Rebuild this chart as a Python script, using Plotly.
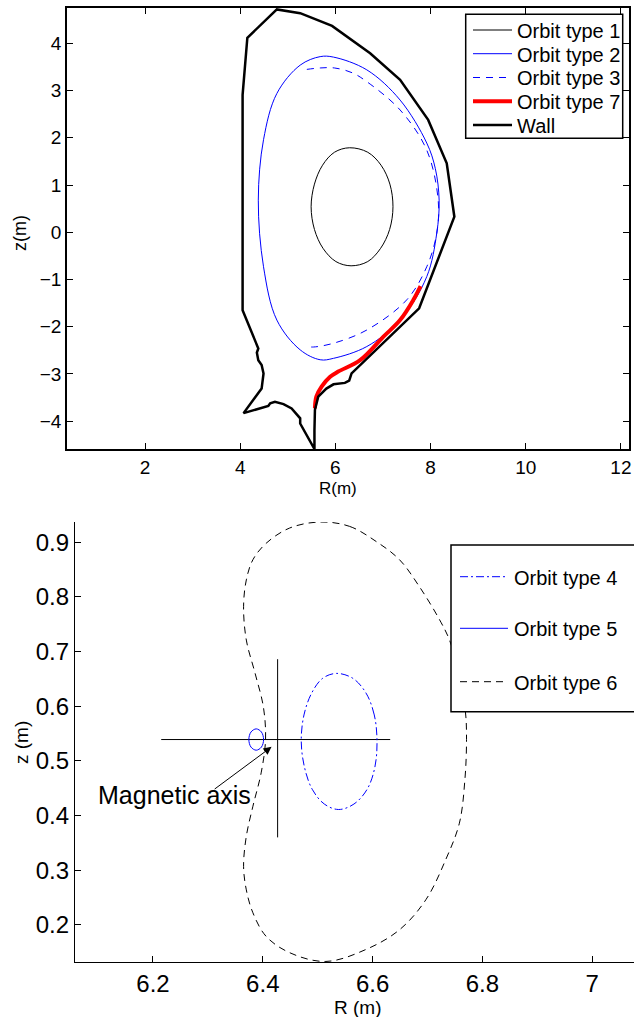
import plotly.graph_objects as go

W, H = 634, 1017
FONT = "Liberation Sans, Arial, sans-serif"

# ---------------- upper panel: poloidal cross-section ----------------
orbit1_R = [7.21, 7.145, 6.96, 6.68, 6.30, 5.98, 5.73, 5.56, 5.49, 5.56, 5.74, 6.01, 6.33, 6.68, 6.95, 7.14, 7.21]
orbit1_z = [0.54, 1.02, 1.42, 1.695, 1.79, 1.695, 1.42, 1.02, 0.54, 0.06, -0.34, -0.62, -0.71, -0.62, -0.34, 0.06, 0.54]

orbit2_R = [8.18, 8.10, 7.92, 7.36, 6.66, 5.96, 5.68, 5.26, 4.77, 4.49, 4.38, 4.49, 4.77, 5.26, 5.68, 5.96, 6.66, 7.36, 7.92, 8.13, 8.18]
orbit2_z = [0.68, 1.35, 1.89, 2.80, 3.44, 3.71, 3.72, 3.54, 2.94, 1.96, 0.68, -0.73, -1.86, -2.49, -2.70, -2.67, -2.42, -1.86, -0.94, -0.02, 0.68]

orbit3_R = [5.40, 5.68, 5.98, 6.35, 6.66, 7.36, 7.92, 8.16, 8.13, 7.92, 7.50, 6.66, 5.96, 5.54, 5.40]
orbit3_z = [3.45, 3.48, 3.48, 3.38, 3.19, 2.59, 1.74, 0.68, -0.02, -0.73, -1.43, -2.07, -2.35, -2.43, -2.42]

orbit7_R = [5.57, 5.60, 5.71, 5.89, 6.06, 6.52, 7.01, 7.36, 7.64, 7.79]
orbit7_z = [-3.73, -3.48, -3.27, -3.06, -2.95, -2.71, -2.21, -1.86, -1.43, -1.14]

wall_R = [5.56, 5.26, 5.26, 5.08, 4.91, 4.73, 4.63, 4.59, 4.07, 4.45, 4.49, 4.45, 4.38, 4.35, 4.35, 4.38,
          4.05, 4.05, 4.15, 4.77, 5.26, 5.93, 6.73, 7.36, 7.95, 8.34, 8.50, 7.76, 6.34, 6.29, 6.20, 5.96,
          5.81, 5.64, 5.57, 5.56, 5.56]
wall_z = [-4.59, -4.05, -3.94, -3.73, -3.64, -3.59, -3.62, -3.68, -3.83, -3.31, -2.99, -2.81, -2.71, -2.60, -2.55, -2.46,
          -1.65, 2.91, 4.12, 4.72, 4.64, 4.37, 3.79, 3.23, 2.38, 1.46, 0.33, -1.61, -2.99, -3.14, -3.19, -3.22,
          -3.31, -3.48, -3.76, -4.20, -4.59]

top_xticks = [2, 4, 6, 8, 10, 12]
top_yticks = [-4, -3, -2, -1, 0, 1, 2, 3, 4]

# ---------------- lower panel: zoom near the magnetic axis ----------------
orbit4_R = [6.608, 6.603, 6.588, 6.564, 6.534, 6.509, 6.489, 6.475, 6.470, 6.476, 6.490, 6.512, 6.538, 6.566, 6.590, 6.604, 6.608]
orbit4_z = [0.536, 0.584, 0.624, 0.651, 0.660, 0.651, 0.624, 0.584, 0.536, 0.488, 0.448, 0.421, 0.411, 0.421, 0.448, 0.488, 0.536]

orbit5_R = [6.4014, 6.3975, 6.388, 6.3785, 6.3746, 6.3785, 6.388, 6.3975, 6.4014]
orbit5_z = [0.539, 0.5528, 0.5585, 0.5528, 0.539, 0.5252, 0.5195, 0.5252, 0.539]

orbit6_R = [6.505, 6.558, 6.607, 6.649, 6.685, 6.722, 6.740, 6.757, 6.769, 6.771, 6.768, 6.758, 6.733, 6.697,
            6.649, 6.588, 6.515, 6.449, 6.406, 6.382, 6.370, 6.365, 6.370, 6.382, 6.397, 6.405, 6.401, 6.386,
            6.370, 6.365, 6.370, 6.382, 6.406, 6.449, 6.505]
orbit6_z = [0.937, 0.929, 0.901, 0.868, 0.819, 0.758, 0.721, 0.660, 0.590, 0.539, 0.465, 0.386, 0.319, 0.246,
            0.191, 0.155, 0.133, 0.149, 0.179, 0.222, 0.264, 0.307, 0.362, 0.417, 0.478, 0.539, 0.599, 0.660,
            0.721, 0.782, 0.831, 0.868, 0.898, 0.926, 0.937]

# cross marking the magnetic axis
cross_R = [6.215, 6.632, None, 6.427, 6.427]
cross_z = [0.539, 0.539, None, 0.686, 0.360]

axis_arrow_head = (6.416, 0.5256)
axis_arrow_tail = (6.3096, 0.4464)
axis_label_pos = (6.24, 0.438)

bot_xticks = [6.2, 6.4, 6.6, 6.8, 7.0]
bot_xticktext = ["6.2", "6.4", "6.6", "6.8", "7"]
bot_yticks = [0.2, 0.3, 0.4, 0.5, 0.6, 0.7, 0.8, 0.9]


def px_x(p):
    return p / W


def px_y(p):
    return 1 - p / H


BLUE = "#0000ff"

# line styles shared by the traces and the legends
style1 = dict(color="black", width=1)
style2 = dict(color=BLUE, width=1)
style3 = dict(color=BLUE, width=1, dash="7px,6px")
style7 = dict(color="#ff0000", width=4)
style_wall = dict(color="black", width=2.5)
style4 = dict(color=BLUE, width=1, dash="8px,3px,2px,3px")
style5 = dict(color=BLUE, width=1)
style6 = dict(color="black", width=1, dash="7px,5px")

fig = go.Figure()

upper = [
    ("Orbit type 1", orbit1_R, orbit1_z, style1, "spline"),
    ("Orbit type 2", orbit2_R, orbit2_z, style2, "spline"),
    ("Orbit type 3", orbit3_R, orbit3_z, style3, "spline"),
    ("Orbit type 7", orbit7_R, orbit7_z, style7, "spline"),
    ("Wall", wall_R, wall_z, style_wall, "linear"),
]
for name, r, z, st, shp in upper:
    fig.add_trace(go.Scatter(x=r, y=z, mode="lines", name=name, showlegend=False,
                             line=dict(shape=shp, **st), xaxis="x", yaxis="y"))

# lower panel traces
fig.add_trace(go.Scatter(x=cross_R, y=cross_z, mode="lines", showlegend=False,
                         line=dict(color="black", width=1), xaxis="x2", yaxis="y2"))
lower = [
    ("Orbit type 4", orbit4_R, orbit4_z, style4, "spline"),
    ("Orbit type 5", orbit5_R, orbit5_z, style5, "spline"),
    ("Orbit type 6", orbit6_R, orbit6_z, style6, "spline"),
]
for name, r, z, st, shp in lower:
    fig.add_trace(go.Scatter(x=r, y=z, mode="lines", name=name, showlegend=False,
                             line=dict(shape=shp, **st), xaxis="x2", yaxis="y2"))

axis_common = dict(showgrid=False, zeroline=False, showline=True, linecolor="black",
                   ticks="inside", ticklen=6, tickcolor="black", tickwidth=1)

fig.update_layout(
    width=W, height=H,
    margin=dict(l=0, r=0, t=0, b=0, autoexpand=False),
    paper_bgcolor="white", plot_bgcolor="white",
    font=dict(family=FONT, color="black"),
    xaxis=dict(domain=[px_x(67), px_x(629)], range=[0.36, 12.17], tickvals=top_xticks,
               mirror="ticks", linewidth=1.5, tickfont=dict(size=19), anchor="y", **axis_common),
    yaxis=dict(domain=[px_y(449), px_y(8)], range=[-4.59, 4.75], tickvals=top_yticks,
               mirror="ticks", linewidth=1.5, tickfont=dict(size=19), anchor="x", **axis_common),
    xaxis2=dict(domain=[px_x(75), 1.0], range=[6.058, 7.076], tickvals=bot_xticks, ticktext=bot_xticktext,
                linewidth=1.2, tickfont=dict(size=24), anchor="y2", **axis_common),
    yaxis2=dict(domain=[px_y(962), px_y(522)], range=[0.132, 0.937], tickvals=bot_yticks,
                linewidth=1.2, tickfont=dict(size=24), anchor="x2", **axis_common),
    showlegend=False,
)


def draw_legend(entries, box, rows, sample_x, text_x):
    """Framed legend box with a line sample and a label per entry."""
    x0, y0, x1, y1 = box
    fig.add_shape(type="rect", xref="paper", yref="paper", x0=px_x(x0), x1=px_x(x1),
                  y0=px_y(y1), y1=px_y(y0), line=dict(color="black", width=1.5),
                  fillcolor="white", layer="above")
    for (name, _, _, st, _), row in zip(entries, rows):
        fig.add_shape(type="line", xref="paper", yref="paper", x0=px_x(sample_x[0]), x1=px_x(sample_x[1]),
                      y0=px_y(row), y1=px_y(row), line=st, layer="above")
        fig.add_annotation(text=name, xref="paper", yref="paper", x=px_x(text_x), y=px_y(row + 1),
                           showarrow=False, font=dict(size=20), xanchor="left", yanchor="middle")


draw_legend(upper, (465.7, 14.3, 622.7, 138.3), [30, 53.7, 77.5, 101.2, 125], (473, 512), 515)
draw_legend(lower, (451, 545, 660, 711.7), [576.7, 628.3, 681.7], (460, 508), 512)

# axis titles
fig.add_annotation(text="R(m)", xref="paper", yref="paper", x=px_x(338), y=px_y(488),
                   showarrow=False, font=dict(size=17), xanchor="center", yanchor="middle")
fig.add_annotation(text="z(m)", xref="paper", yref="paper", x=px_x(20), y=px_y(233), textangle=-90,
                   showarrow=False, font=dict(size=18), xanchor="center", yanchor="middle")
fig.add_annotation(text="R (m)", xref="paper", yref="paper", x=px_x(357), y=px_y(1007),
                   showarrow=False, font=dict(size=19), xanchor="center", yanchor="middle")
fig.add_annotation(text="z (m)", xref="paper", yref="paper", x=px_x(21), y=px_y(743), textangle=-90,
                   showarrow=False, font=dict(size=19), xanchor="center", yanchor="middle")

# magnetic axis pointer
fig.add_annotation(x=axis_arrow_head[0], y=axis_arrow_head[1], ax=axis_arrow_tail[0], ay=axis_arrow_tail[1],
                   xref="x2", yref="y2", axref="x2", ayref="y2", text="", showarrow=True,
                   arrowhead=2, arrowsize=1.6, arrowwidth=1, arrowcolor="black")
fig.add_annotation(x=axis_label_pos[0], y=axis_label_pos[1], xref="x2", yref="y2", text="Magnetic axis",
                   showarrow=False, font=dict(size=25), xanchor="center", yanchor="middle")

fig.write_html("out.html")
